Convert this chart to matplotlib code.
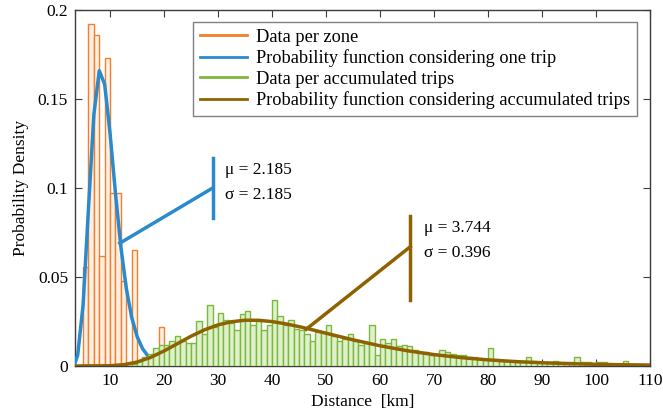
import numpy as np
import matplotlib
matplotlib.use("Agg")
import matplotlib.pyplot as plt
from matplotlib.ticker import FuncFormatter

# ---------------- data ----------------
# histogram of distance per zone (bins of 1 km, left edges)
zone_edges = [5, 6, 7, 8, 9, 10, 11, 12, 13, 14, 15, 16, 17, 18, 19]
zone_density = [0.0556, 0.192, 0.186, 0.062, 0.173, 0.097, 0.097, 0.048,
                0.0, 0.065, 0.0, 0.0, 0.0, 0.0, 0.022]

# fitted probability function, one trip
one_trip_x = [3.5, 4, 5, 6, 7, 8, 9, 10, 11, 12, 13, 14, 15, 16, 17, 18,
              20, 22, 25, 110]
one_trip_pdf = [0.0016, 0.0061, 0.0343, 0.0886, 0.1414, 0.1659, 0.1582,
                0.1305, 0.0970, 0.0669, 0.0437, 0.0273, 0.0166, 0.0098,
                0.0057, 0.0033, 0.0011, 0.0003, 0.0, 0.0]

# histogram of accumulated trips (bins of 1 km starting at 14 km)
acc_start = 14
acc_density = [
    0.001, 0.003, 0.005, 0.007, 0.010, 0.012, 0.012, 0.014, 0.017, 0.014,
    0.013, 0.013, 0.025, 0.018, 0.034, 0.022, 0.030, 0.026, 0.024, 0.020,
    0.029, 0.031, 0.023, 0.025, 0.020, 0.023, 0.037, 0.028, 0.023, 0.026,
    0.021, 0.020, 0.018, 0.014, 0.019, 0.019, 0.023, 0.017, 0.014, 0.015,
    0.018, 0.014, 0.012, 0.013, 0.023, 0.006, 0.015, 0.013, 0.015, 0.011,
    0.012, 0.011, 0.009, 0.008, 0.008, 0.006, 0.007, 0.009, 0.008, 0.007,
    0.006, 0.006, 0.005, 0.005, 0.004, 0.004, 0.010, 0.004, 0.003, 0.003,
    0.003, 0.002, 0.002, 0.005, 0.003, 0.002, 0.002, 0.002, 0.003, 0.002,
    0.002, 0.002, 0.005, 0.002, 0.002, 0.001, 0.002, 0.002, 0.001, 0.001,
    0.001, 0.003, 0.001, 0.001, 0.001, 0.001]

# fitted probability function, accumulated trips
acc_x = [3.5, 10, 12.5, 15, 17.5, 20, 22.5, 25, 27.5, 30, 32.5, 35, 37.5,
         40, 42.5, 45, 47.5, 50, 55, 60, 65, 70, 75, 80, 85, 90, 95, 100,
         105, 110]
acc_pdf = [0.0, 0.00013, 0.00071, 0.00219, 0.00482, 0.00845, 0.0126,
           0.01673, 0.02033, 0.02309, 0.02487, 0.0257, 0.02567, 0.02494,
           0.0237, 0.02211, 0.0203, 0.01841, 0.01469, 0.01135, 0.00859,
           0.00639, 0.00471, 0.00344, 0.0025, 0.00181, 0.00131, 0.000946,
           0.000684, 0.000495]

yticks = [0, 0.05, 0.1, 0.15, 0.2]
xticks = [10, 20, 30, 40, 50, 60, 70, 80, 90, 100, 110]

# ---------------- style ----------------
plt.rcParams['font.family'] = ['Liberation Serif', 'DejaVu Serif']
plt.rcParams['font.size'] = 12

c_orange = '#F27F2C'
c_blue = '#2B8ACB'
c_green = '#7CB83A'
c_brown = '#8E6200'
c_axis = '#3C3C3C'

fig = plt.figure(figsize=(6.63, 4.2), dpi=100)
ax = fig.add_axes([0.1131, 0.1286, 0.8673, 0.8476])

ax.bar(zone_edges, zone_density, width=1, align='edge',
       facecolor=(1, 0.94, 0.89), edgecolor=c_orange, linewidth=1.0,
       zorder=2)
ax.plot(one_trip_x, one_trip_pdf, color=c_blue, lw=2.5, zorder=3)

acc_edges = np.arange(acc_start, acc_start + len(acc_density))
ax.bar(acc_edges, acc_density, width=1, align='edge',
       facecolor=(0.87, 0.94, 0.80), edgecolor=c_green, linewidth=1.0,
       zorder=4)
ax.plot(acc_x, acc_pdf, color=c_brown, lw=2.5, zorder=5)

# annotations
ax.plot([11.8, 29.0], [0.069, 0.1], color=c_blue, lw=2.5, zorder=6)
ax.plot([29.0, 29.0], [0.083, 0.117], color=c_blue, lw=2.5, zorder=6)
ax.text(31.2, 0.110, 'μ = 2.185', va='center', ha='left', fontsize=12.5)
ax.text(31.2, 0.096, 'σ = 2.185', va='center', ha='left', fontsize=12.5)

ax.plot([46.3, 65.6], [0.0206, 0.067], color=c_brown, lw=2.5, zorder=6)
ax.plot([65.6, 65.6], [0.037, 0.084], color=c_brown, lw=2.5, zorder=6)
ax.text(68.2, 0.0775, 'μ = 3.744', va='center', ha='left', fontsize=12.5)
ax.text(68.2, 0.0635, 'σ = 0.396', va='center', ha='left', fontsize=12.5)

# legend proxies
handles = [
    plt.Line2D([], [], color=c_orange, lw=2),
    plt.Line2D([], [], color=c_blue, lw=2),
    plt.Line2D([], [], color=c_green, lw=2),
    plt.Line2D([], [], color=c_brown, lw=2),
]
labels = ['Data per zone', 'Probability function considering one trip',
          'Data per accumulated trips',
          'Probability function considering accumulated trips']
leg = ax.legend(handles, labels, loc='upper right',
                bbox_to_anchor=(0.977, 0.966), borderaxespad=0,
                fancybox=False, edgecolor='#808080', framealpha=1,
                handlelength=2.6, handletextpad=0.5, labelspacing=0.2,
                borderpad=0.35, fontsize=13.2)
leg.get_frame().set_linewidth(1.0)
leg.set_zorder(10)

ax.set_xlim(3.5, 110)
ax.set_ylim(0, 0.2)
ax.set_xticks(xticks)
ax.set_yticks(yticks)
ax.yaxis.set_major_formatter(FuncFormatter(lambda v, p: '%g' % v))
ax.tick_params(direction='in', top=True, right=True, length=5,
               width=0.8, color=c_axis, labelsize=12.5, pad=5)
for s in ax.spines.values():
    s.set_color(c_axis)
    s.set_linewidth(1.0)

ax.set_xlabel('Distance  [km]', fontsize=12.5, labelpad=4)
ax.set_ylabel('Probability Density', fontsize=12.5, labelpad=6)

fig.savefig('out.png', dpi=100)
